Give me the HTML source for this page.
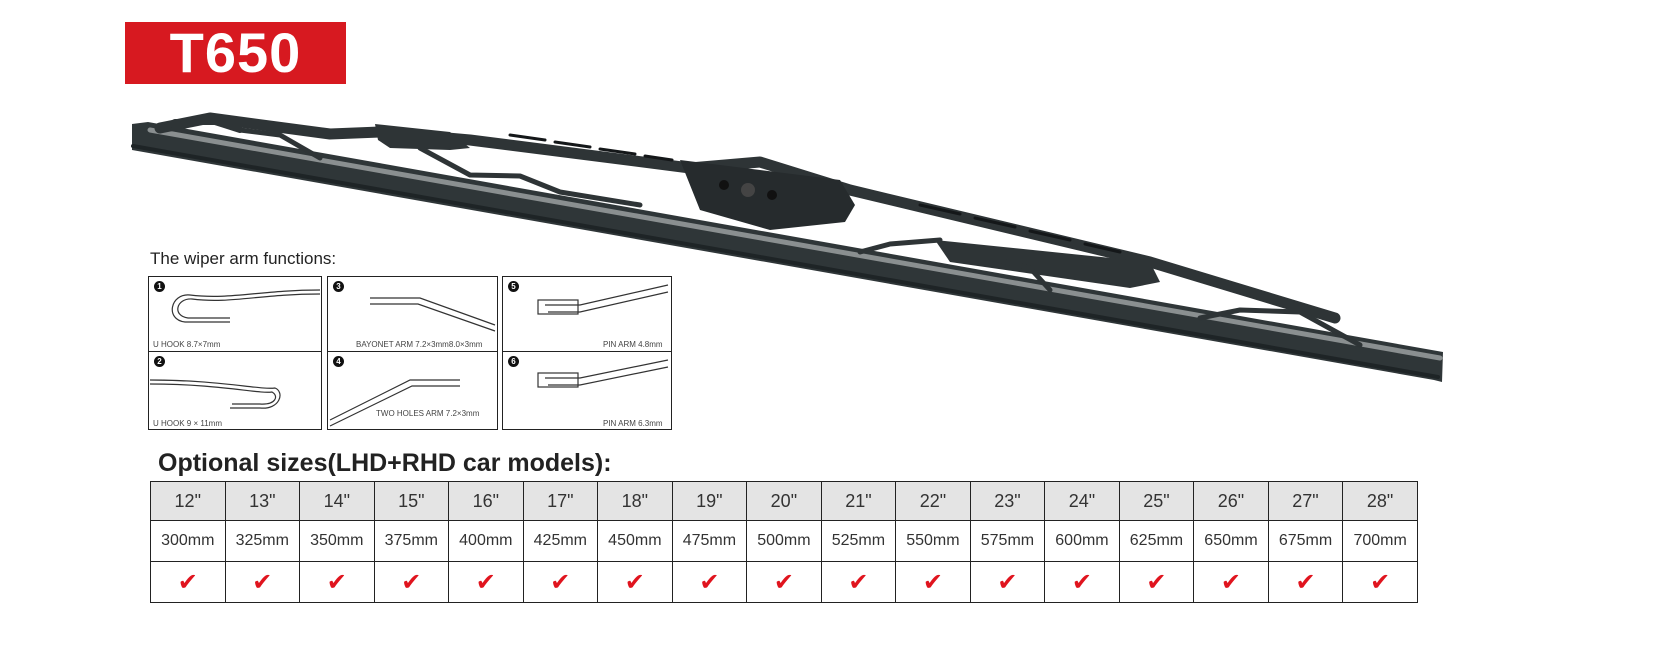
<!DOCTYPE html><html><head><style>
body{margin:0;width:1654px;height:652px;background:#fff;position:relative;overflow:hidden;font-family:"Liberation Sans",sans-serif}
.t650{position:absolute;left:125px;top:22px;width:221px;height:62px;background:#d71920;color:#fff;font-weight:bold;font-size:56px;line-height:62px;text-align:center;letter-spacing:1px}
.fn{position:absolute;left:150px;top:249px;font-size:17px;color:#222}
.box{position:absolute;border:1.5px solid #222;background:#fff}
.lab{position:absolute;font-size:8px;color:#444}
.num{position:absolute;left:5px;top:4px;width:11px;height:11px;border-radius:50%;background:#111;color:#fff;font-size:8px;text-align:center;line-height:11px;font-weight:bold}
.opt{position:absolute;left:158px;top:449px;font-size:25px;font-weight:bold;color:#222}
table{position:absolute;left:150px;top:481px;border-collapse:collapse;width:1268px}
td{border:1.5px solid #222;text-align:center;font-size:16px;color:#333;width:74px}
tr.h td{background:#e4e4e4;height:36px;font-size:18px}
tr.m td{height:38px}
tr.c td{height:38px;color:#e0141e;font-size:24px}
</style></head><body>
<div class="t650">T650</div>
<svg style="position:absolute;left:0;top:0" width="1654" height="652" stroke-linejoin="round" stroke-linecap="round" fill="none">
<!-- rail -->
<polygon points="132,124 148,122 1443,352 1442,382 1434,380 132,150" fill="#2f3638"/>
<line x1="150" y1="130" x2="1440" y2="358" stroke="#8a8f90" stroke-width="5"/>
<line x1="133" y1="146" x2="1438" y2="377" stroke="#1e2426" stroke-width="4"/>
<!-- main frame -->
<polyline points="160,128 210,118 330,134 380,132 470,140 690,168 760,162 850,190 1150,262 1335,318" stroke="#2e3436" stroke-width="11"/>
<polygon points="375,124 450,132 470,148 450,150 390,148 378,140" fill="#2e3436"/>
<polygon points="680,160 840,180 855,205 845,222 770,230 700,210" fill="#262b2d"/>
<circle cx="724" cy="185" r="5" fill="#111"/><circle cx="748" cy="190" r="7" fill="#444"/><circle cx="772" cy="195" r="5" fill="#111"/>
<polygon points="935,240 1150,262 1160,282 1130,288 950,262" fill="#2e3436"/>
<!-- claws -->
<polyline points="165,128 175,122 215,122 240,130" stroke="#2e3436" stroke-width="6"/>
<polyline points="240,130 280,135 320,158" stroke="#2e3436" stroke-width="5"/>
<polyline points="420,148 470,175 520,176 560,192 640,205" stroke="#2e3436" stroke-width="5"/>
<polyline points="860,252 890,244 940,240" stroke="#2e3436" stroke-width="5"/>
<polyline points="990,258 1030,268 1050,290" stroke="#2e3436" stroke-width="5"/>
<polyline points="1200,318 1240,310 1300,312 1360,345" stroke="#2e3436" stroke-width="5"/>
<g stroke="#141719" stroke-width="3">
<line x1="510" y1="135" x2="545" y2="140"/><line x1="555" y1="142" x2="590" y2="147"/><line x1="600" y1="149" x2="635" y2="154"/><line x1="645" y1="156" x2="672" y2="160"/>
<line x1="920" y1="205" x2="960" y2="214"/><line x1="975" y1="218" x2="1015" y2="227"/><line x1="1030" y1="231" x2="1070" y2="240"/><line x1="1085" y1="244" x2="1120" y2="252"/>
</g>
</svg>
<div class="fn">The wiper arm functions:</div>
<div class="box" style="left:148px;top:276px;width:172px;height:74px"><div class="num">1</div><div class="lab" style="left:4px;top:63px">U HOOK 8.7×7mm</div></div>
<div class="box" style="left:148px;top:351px;width:172px;height:77px"><div class="num">2</div><div class="lab" style="left:4px;top:67px">U HOOK 9 × 11mm</div></div>
<div class="box" style="left:327px;top:276px;width:169px;height:74px"><div class="num">3</div><div class="lab" style="left:28px;top:63px">BAYONET ARM 7.2×3mm8.0×3mm</div></div>
<div class="box" style="left:327px;top:351px;width:169px;height:77px"><div class="num">4</div><div class="lab" style="left:48px;top:57px">TWO HOLES ARM 7.2×3mm</div></div>
<div class="box" style="left:502px;top:276px;width:168px;height:74px"><div class="num">5</div><div class="lab" style="left:100px;top:63px">PIN ARM 4.8mm</div></div>
<div class="box" style="left:502px;top:351px;width:168px;height:77px"><div class="num">6</div><div class="lab" style="left:100px;top:67px">PIN ARM 6.3mm</div></div>
<svg style="position:absolute;left:0;top:0" width="680" height="440" fill="none" stroke="#333" stroke-width="1.2">
<path d="M320,290 C260,290 230,300 190,295 C170,293 165,320 185,322 L230,322"/>
<path d="M320,294 C260,294 230,304 192,299 C176,298 172,316 188,318 L230,318"/>
<path d="M150,380 C220,380 260,390 275,388 C285,392 280,410 260,408 L230,408"/>
<path d="M150,384 C220,384 258,394 272,392 C279,396 276,405 260,404 L232,404"/>
<path d="M370,298 L420,298 L495,325"/><path d="M370,304 L418,304 L495,331"/>
<path d="M330,420 L410,380 L460,380"/><path d="M330,426 L412,386 L460,386"/>
<path d="M545,305 L580,305 L668,285"/><path d="M548,312 L580,312 L668,292"/>
<path d="M545,378 L580,378 L668,360"/><path d="M548,385 L580,385 L668,367"/>
<rect x="538" y="300" width="40" height="14"/><rect x="538" y="373" width="40" height="14"/>
</svg>
<div class="opt">Optional sizes(LHD+RHD car models):</div>
<table>
<tr class="h"><td>12"</td><td>13"</td><td>14"</td><td>15"</td><td>16"</td><td>17"</td><td>18"</td><td>19"</td><td>20"</td><td>21"</td><td>22"</td><td>23"</td><td>24"</td><td>25"</td><td>26"</td><td>27"</td><td>28"</td></tr>
<tr class="m"><td>300mm</td><td>325mm</td><td>350mm</td><td>375mm</td><td>400mm</td><td>425mm</td><td>450mm</td><td>475mm</td><td>500mm</td><td>525mm</td><td>550mm</td><td>575mm</td><td>600mm</td><td>625mm</td><td>650mm</td><td>675mm</td><td>700mm</td></tr>
<tr class="c"><td>✔</td><td>✔</td><td>✔</td><td>✔</td><td>✔</td><td>✔</td><td>✔</td><td>✔</td><td>✔</td><td>✔</td><td>✔</td><td>✔</td><td>✔</td><td>✔</td><td>✔</td><td>✔</td><td>✔</td></tr>
</table>
</body></html>
